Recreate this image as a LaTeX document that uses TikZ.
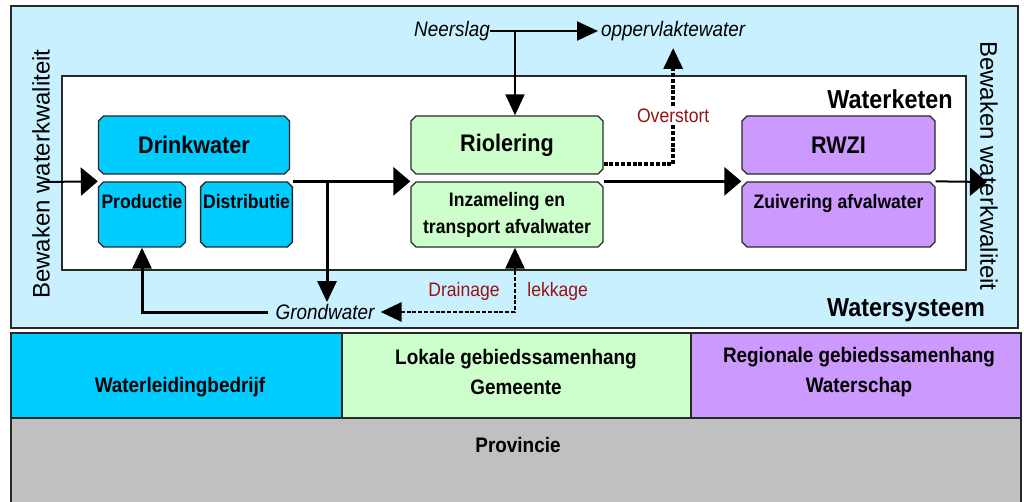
\documentclass[tikz,border=0pt]{standalone}
\usepackage{fontspec}
\setmainfont{Liberation Sans}[FakeStretch=0.9]
\newfontfamily\widefont{Liberation Sans}
\usetikzlibrary{arrows.meta,positioning,shapes.misc,calc}
\definecolor{syscyan}{RGB}{200,240,255}
\definecolor{dwblue}{RGB}{0,204,255}
\definecolor{riogreen}{RGB}{204,255,204}
\definecolor{rwzipurple}{RGB}{204,153,255}
\definecolor{provgray}{RGB}{192,192,192}
\definecolor{flowred}{RGB}{150,20,20}
\definecolor{edgegray}{RGB}{40,40,40}

\begin{document}
\begin{tikzpicture}[x=1pt, y=-1pt,
  big/.tip={Triangle[length=17pt, width=28pt]},
  small/.tip={Triangle[length=21pt, width=19pt]},
  proc/.style={draw=edgegray, line width=1.3pt, chamfered rectangle,
    chamfered rectangle xsep=2.5pt, chamfered rectangle ysep=2.5pt,
    inner sep=0pt, align=center},
  head/.style={proc, minimum height=58pt, font=\bfseries\fontsize{24}{26}\selectfont},
  sub/.style={proc, minimum height=65pt, font=\bfseries\fontsize{19.5}{27}\selectfont},
  region/.style={draw=edgegray, line width=1.3pt, inner sep=0pt},
  regiontext/.style={font=\bfseries\fontsize{21}{30}\selectfont, align=center, inner sep=0pt},
  water/.style={font=\itshape\fontsize{21}{24}\selectfont, inner sep=0pt},
  flowlabel/.style={font=\fontsize{19.5}{22}\selectfont, text=flowred, inner sep=1pt},
  mainflow/.style={line width=3pt, -big},
  thinflow/.style={line width=2pt, -big},
  sideflow/.style={line width=3pt, -small},
  rain/.style={line width=2pt, -small},
  spill/.style={line width=3.5pt, dash pattern=on 4pt off 1.8pt, -small}]
  \useasboundingbox (0,0) rectangle (1024,502);

  % watersysteem en waterketen
  \draw[draw=edgegray, line width=1.6pt, fill=syscyan] (11,6) rectangle (1018,328);
  \draw[draw=edgegray, line width=1.1pt, fill=white] (62,76) rectangle (966,270);
  \node[font=\bfseries\fontsize{26}{28}\selectfont] (keten) at (890,99) {Waterketen};
  \node[font=\bfseries\fontsize{26}{28}\selectfont] (systeem) at (906,310) {Watersysteem};
  \node[font=\widefont\fontsize{24}{26}\selectfont, rotate=90] (bewakenin) at (41,174) {Bewaken waterkwaliteit};
  \node[font=\widefont\fontsize{24}{26}\selectfont, rotate=-90] (bewakenuit) at (989,166) {Bewaken waterkwaliteit};

  % processen
  \node[head, fill=dwblue, minimum width=191pt] (drink) at (194,145) {Drinkwater};
  \node[sub, fill=dwblue, minimum width=87pt] (prod) at (142,214.5) {Productie\\ \mbox{}};
  \node[sub, fill=dwblue, minimum width=87pt] (distr) at (246.5,214.5) {Distributie\\ \mbox{}};
  \node[head, fill=riogreen, minimum width=192pt] (riool) at (507,145) {Riolering};
  \node[sub, fill=riogreen, minimum width=192pt] (inzam) at (507,214.5) {Inzameling en\\ transport afvalwater};
  \node[head, fill=rwzipurple, minimum width=193pt] (rwzi) at (838.5,145) {RWZI};
  \node[sub, fill=rwzipurple, minimum width=193pt] (zuiv) at (838.5,214.5) {Zuivering afvalwater\\ \mbox{}};

  % water buiten de keten
  \node[water, anchor=east] (neerslag) at (490,31) {Neerslag};
  \node[water, anchor=west, inner sep=3pt] (opp) at (598,31) {oppervlaktewater};
  \node[water] (grond) at (325,312) {Grondwater};
  \coordinate (in) at (43,182);
  \coordinate (out) at (987,182);
  \coordinate (rainsplit) at (515,31);
  \coordinate (groundsplit) at (327,182);

  % stromen
  \draw[thinflow] (in) -- (prod.west |- prod.north);
  \draw[mainflow] (distr.east |- distr.north) -- (inzam.west |- inzam.north);
  \draw[mainflow] (inzam.east |- inzam.north) -- (zuiv.west |- zuiv.north);
  \draw[thinflow] (zuiv.east |- zuiv.north) -- (out);
  \draw[sideflow, shorten >=2pt] (groundsplit) -- (grond.north -| groundsplit);
  \draw[sideflow, shorten <=7pt] (grond.west) -| (prod.south);
  \draw[rain] (neerslag.east) -- (opp.west);
  \draw[rain] (rainsplit) -- (riool.north -| rainsplit);
  \draw[spill, shorten >=4pt] ($(riool.east)+(0,19)$) -| (opp.south)
    node[pos=0.7, flowlabel, fill=white] {Overstort};
  \draw[spill, line width=2.8pt, small-small, shorten <=6pt] (grond.east) -| (inzam.south -| rainsplit)
    node[pos=0.66, flowlabel, left=13pt] {Drainage}
    node[pos=0.66, flowlabel, right=10pt] {lekkage};

  % organisaties
  \node[region, fill=dwblue, minimum width=331pt, minimum height=85pt] (bedrijf) at (176.5,375.5) {};
  \node[region, fill=riogreen, minimum width=349pt, minimum height=85pt] (gemeente) at (516.5,375.5) {};
  \node[region, fill=rwzipurple, minimum width=330pt, minimum height=85pt] (schap) at (856,375.5) {};
  \node[region, fill=provgray, minimum width=1010pt, minimum height=88pt] (provincie) at (516,462) {};
  \node[regiontext] (bedrijftxt) at (180,387) {Waterleidingbedrijf};
  \node[regiontext] (gemeentetxt) at (516,372) {Lokale gebiedssamenhang\\ Gemeente};
  \node[regiontext] (schaptxt) at (859,372) {Regionale gebiedssamenhang\\ Waterschap};
  \node[regiontext] (provincietxt) at (518,445) {Provincie};
\end{tikzpicture}
\end{document}
